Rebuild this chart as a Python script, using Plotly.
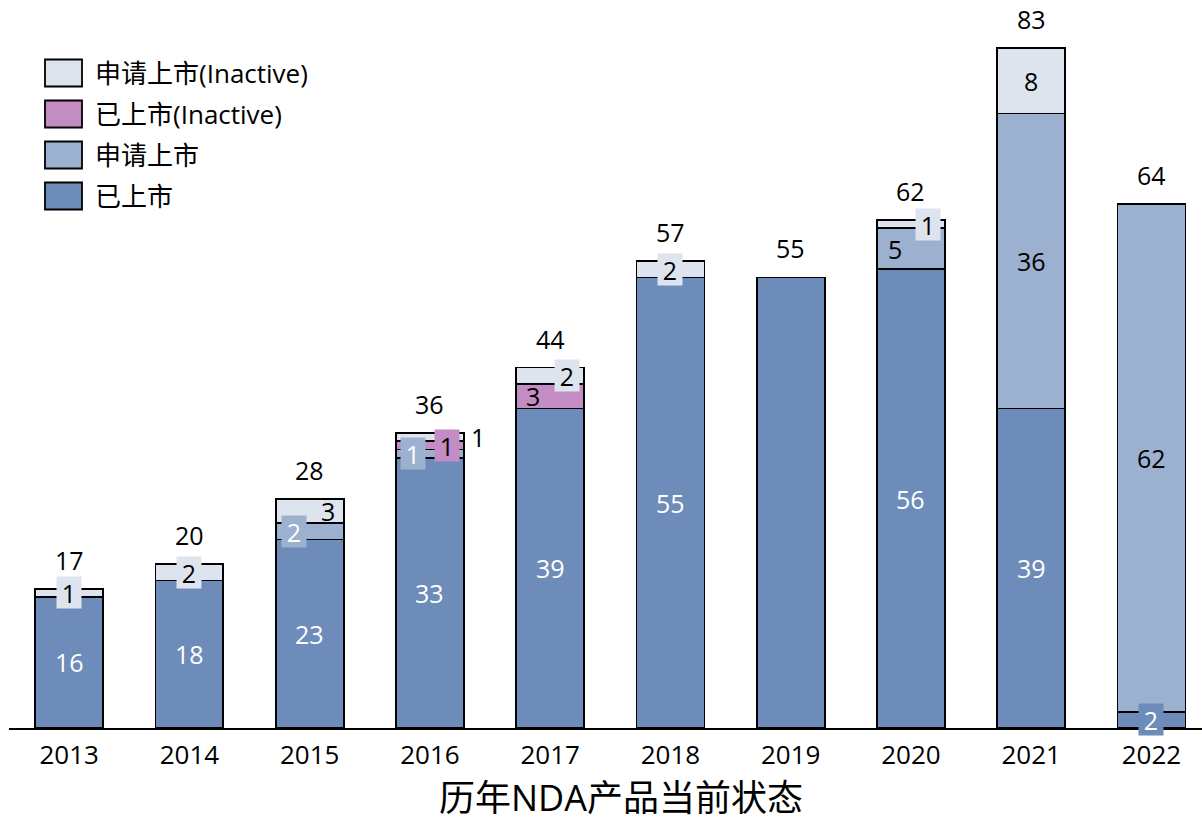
import plotly.graph_objects as go

years = ["2013", "2014", "2015", "2016", "2017", "2018", "2019", "2020", "2021", "2022"]
launched = [16, 18, 23, 33, 39, 55, 55, 56, 39, 2]            # 已上市
filing = [0, 0, 2, 1, 0, 0, 0, 5, 36, 62]                      # 申请上市
launched_inactive = [0, 0, 0, 1, 3, 0, 0, 0, 0, 0]             # 已上市(Inactive)
filing_inactive = [1, 2, 3, 1, 2, 2, 0, 1, 8, 0]               # 申请上市(Inactive)
totals = [17, 20, 28, 36, 44, 57, 55, 62, 83, 64]

names = ["已上市", "申请上市", "已上市(Inactive)", "申请上市(Inactive)"]
series = [launched, filing, launched_inactive, filing_inactive]
colors = ["#6E8CB9", "#9CB0D0", "#C38CC3", "#DEE4EE"]
text_colors = ["white", "black", "black", "black"]

# special label placements: (year index, series index) -> (xshift, text colour, boxed)
special = {
    (2, 1): (-16, "white", True),
    (2, 3): (18, "black", False),
    (3, 1): (-17, "white", True),
    (3, 2): (17, "black", True),
    (3, 3): (48, "black", False),
    (4, 2): (-17, "black", False),
    (4, 3): (17, "black", True),
    (7, 1): (-16, "black", False),
    (7, 3): (17, "black", True),
}
hidden = {(6, 0)}  # 2019: label only shown as total

FONT = "Open Sans, Noto Sans CJK SC, sans-serif"
W, H = 1202, 821
L, T, B, R = 9, 0, 93, 0
PW, PH = W - L - R, H - T - B


def px(x):
    return (x - L) / PW


def py(y):
    return 1 - (y - T) / PH


fig = go.Figure()
for name, vals, col in zip(names, series, colors):
    fig.add_trace(go.Bar(
        x=years,
        y=[v if v else None for v in vals],
        name=name,
        marker=dict(color=col, line=dict(color="black", width=1.8)),
        width=0.565,
        showlegend=False,
        hoverinfo="skip",
    ))

annotations = []
for i, yr in enumerate(years):
    base = 0
    for s, vals in enumerate(series):
        v = vals[i]
        if v and (i, s) not in hidden:
            xshift, tcol, boxed = special.get((i, s), (0, text_colors[s], v <= 3))
            ann = dict(
                x=i, y=base + v / 2, xref="x", yref="y", text=str(v),
                showarrow=False, xshift=xshift,
                font=dict(size=25, color=tcol, family=FONT),
                borderpad=0,
            )
            if boxed:
                ann.update(bgcolor=colors[s], width=24, height=31)
            annotations.append(ann)
        base += v
    annotations.append(dict(
        x=i, y=totals[i], xref="x", yref="y", text=str(totals[i]),
        showarrow=False, yshift=29,
        font=dict(size=25, color="black", family=FONT),
    ))

# manual legend
legend_items = [("申请上市(Inactive)", colors[3]), ("已上市(Inactive)", colors[2]),
                ("申请上市", colors[1]), ("已上市", colors[0])]
shapes = []
for k, (name, col) in enumerate(legend_items):
    cy = 73 + 41 * k
    shapes.append(dict(type="rect", xref="paper", yref="paper",
                       x0=px(45), x1=px(82), y0=py(cy + 13.5), y1=py(cy - 13.5),
                       fillcolor=col, line=dict(color="black", width=1.8)))
    annotations.append(dict(x=px(93), y=py(cy), xref="paper", yref="paper",
                            text=name, showarrow=False, xanchor="left", yanchor="middle",
                            font=dict(size=26, color="black", family=FONT)))

annotations.append(dict(x=px(621), y=py(797), xref="paper", yref="paper",
                        text="历年NDA产品当前状态", showarrow=False,
                        xanchor="center", yanchor="middle", height=40,
                        font=dict(size=36, color="black", family=FONT)))

fig.update_layout(
    width=W, height=H,
    margin=dict(l=L, r=R, t=T, b=B),
    barmode="stack",
    plot_bgcolor="white", paper_bgcolor="white",
    annotations=annotations, shapes=shapes,
    xaxis=dict(type="category", range=[-0.5, 9.42], showline=True, linecolor="black",
               linewidth=1.8, ticks="outside", ticklen=3, tickcolor="rgba(0,0,0,0)",
               tickfont=dict(size=26, color="black", family=FONT), showgrid=False,
               fixedrange=True),
    yaxis=dict(range=[0, 88.86], visible=False, showgrid=False, fixedrange=True),
    font=dict(family=FONT),
)

fig.write_html("out.html")
